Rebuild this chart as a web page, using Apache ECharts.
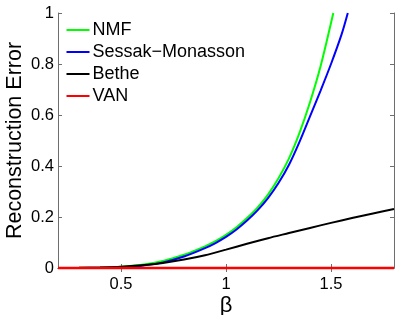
<!DOCTYPE html>
<html>
<head>
<meta charset="utf-8">
<script src="https://cdn.jsdelivr.net/npm/echarts@6/dist/echarts.min.js"></script>
<style>html,body{margin:0;padding:0;background:#fff;}#c{width:399px;height:315px;}</style>
</head>
<body>
<div id="c"></div>
<script>
var betaGreen = [0.2,0.3,0.4,0.5,0.6,0.7,0.8,0.9,0.95,1.0,1.05,1.1,1.15,1.2,1.25,1.3,1.35,1.4,1.45,1.511];
var nmf       = [0,0.0005,0.002,0.005,0.013,0.028,0.052,0.085,0.105,0.13,0.16,0.196,0.237,0.288,0.352,0.43,0.53,0.65,0.79,1.0];
var betaBlue  = [0.2,0.3,0.4,0.5,0.6,0.7,0.8,0.9,0.95,1.0,1.05,1.1,1.15,1.2,1.25,1.3,1.35,1.4,1.45,1.5,1.55,1.58];
var sessak    = [0,0.0003,0.001,0.003,0.009,0.022,0.045,0.078,0.098,0.122,0.151,0.186,0.226,0.274,0.333,0.405,0.495,0.595,0.695,0.8,0.915,1.0];
var betaBlack = [0.2,0.3,0.4,0.5,0.6,0.7,0.8,0.9,1.0,1.1,1.2,1.3,1.4,1.5,1.6,1.7,1.8];
var bethe     = [0,0.0005,0.002,0.005,0.011,0.02,0.033,0.05,0.072,0.095,0.117,0.137,0.157,0.177,0.196,0.214,0.231];
var betaRed   = [0.2,1.8];
var van       = [0,0];
var xTicks = [0.5,1,1.5];
var seriesNames = ['NMF','Sessak\u2212Monasson','Bethe','VAN'];

function pairs(xs, ys){ return xs.map(function(x,i){return [x, ys[i]];}); }

var FONT = 'Liberation Sans, Arial, sans-serif';
var axisColor = '#6e6e6e';
var chart = echarts.init(document.getElementById('c'), null, {renderer:'canvas'});
chart.setOption({
  animation:false,
  grid:{left:58, right:5, top:13, bottom:47, outerBoundsMode:'none', containLabel:false},
  legend:{
    data:seriesNames,
    orient:'vertical', left:66.5, top:21, padding:0,
    itemWidth:23, itemHeight:2, itemGap:4,
    icon:'rect',
    textStyle:{fontFamily:FONT, fontSize:18, lineHeight:18, color:'#000', padding:[0,0,0,-2]},
    itemStyle:{borderWidth:0}
  },
  xAxis:[{
    type:'value', min:0.2, max:1.8, position:'bottom',
    name:'\u03b2', nameLocation:'middle', nameGap:27, nameMoveOverlap:false,
    nameTextStyle:{fontFamily:FONT, fontSize:22, color:'#000'},
    axisLine:{show:true, lineStyle:{color:axisColor, width:1}},
    axisTick:{show:true, inside:true, length:4, customValues:xTicks, lineStyle:{color:axisColor}},
    axisLabel:{show:true, customValues:xTicks, fontFamily:FONT, fontSize:16.5, color:'#000', margin:8},
    splitLine:{show:false}
  },{
    type:'value', min:0.2, max:1.8, position:'top',
    axisLine:{show:true, lineStyle:{color:axisColor, width:1}},
    axisTick:{show:true, inside:true, length:4, customValues:xTicks, lineStyle:{color:axisColor}},
    axisLabel:{show:false},
    splitLine:{show:false}
  }],
  yAxis:[{
    type:'value', min:0, max:1, interval:0.2, position:'left',
    name:'Reconstruction Error', nameLocation:'middle', nameGap:32, nameMoveOverlap:false,
    nameTextStyle:{fontFamily:FONT, fontSize:21.5, color:'#000'},
    axisLine:{show:true, lineStyle:{color:axisColor, width:1}},
    axisTick:{show:true, inside:true, length:4, lineStyle:{color:axisColor}},
    axisLabel:{fontFamily:FONT, fontSize:16.5, color:'#000', margin:4},
    splitLine:{show:false}
  },{
    type:'value', min:0, max:1, interval:0.2, position:'right',
    axisLine:{show:true, lineStyle:{color:axisColor, width:1}},
    axisTick:{show:true, inside:true, length:4, lineStyle:{color:axisColor}},
    axisLabel:{show:false},
    splitLine:{show:false}
  }],
  series:[
    {name:seriesNames[0], type:'line', data:pairs(betaGreen,nmf), smooth:0.3, showSymbol:false, symbol:'none',
     lineStyle:{color:'#00ff00', width:2}, itemStyle:{color:'#00ff00'}, clip:true, z:2},
    {name:seriesNames[1], type:'line', data:pairs(betaBlue,sessak), smooth:0.3, showSymbol:false, symbol:'none',
     lineStyle:{color:'#0000ff', width:2}, itemStyle:{color:'#0000ff'}, clip:true, z:3},
    {name:seriesNames[2], type:'line', data:pairs(betaBlack,bethe), smooth:0.3, showSymbol:false, symbol:'none',
     lineStyle:{color:'#000000', width:2}, itemStyle:{color:'#000000'}, clip:true, z:4},
    {name:seriesNames[3], type:'line', data:pairs(betaRed,van), showSymbol:false, symbol:'none',
     lineStyle:{color:'#ff0000', width:2.5}, itemStyle:{color:'#ff0000'}, clip:false, z:5}
  ]
});
</script>
</body>
</html>
